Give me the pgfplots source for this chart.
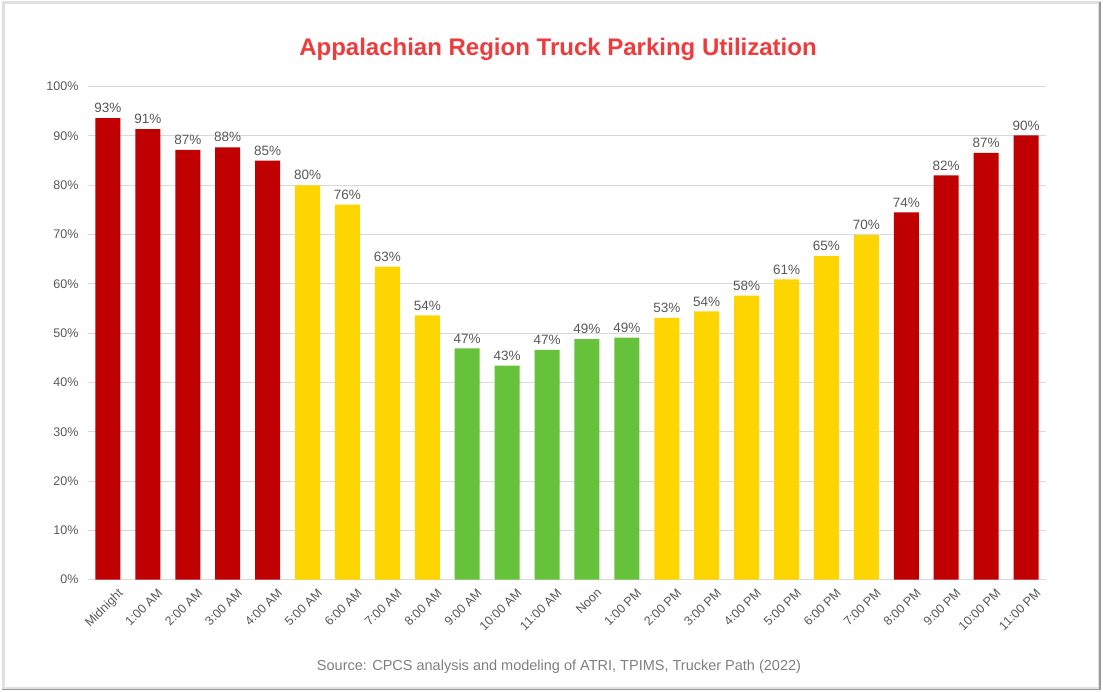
\documentclass[border=0pt]{standalone}
\usepackage{pgfplots}
\pgfplotsset{compat=1.18}
\usepackage{fontspec}
\setmainfont{Liberation Sans}
\definecolor{barred}{HTML}{C00000}
\definecolor{baryellow}{HTML}{FFD500}
\definecolor{bargreen}{HTML}{66C23A}
\definecolor{titlered}{HTML}{EE3B3B}
\definecolor{txtgray}{HTML}{595959}
\definecolor{srcgray}{HTML}{808080}
\definecolor{gridgray}{HTML}{D9D9D9}
\begin{document}
\begin{tikzpicture}
% page frame
\useasboundingbox (0,0) rectangle (1103pt,692pt);
\fill[white] (0,0) rectangle (1103pt,692pt);
\draw[black!12, line width=3pt] (3pt,3pt) rectangle (1099pt,689pt);
\draw[black!40, line width=1.2pt] (2pt,2.5pt) -- (1100pt,2.5pt) -- (1100pt,690pt);

\begin{axis}[
    at={(88pt,112.3pt)}, anchor=south west,
    scale only axis,
    width=958pt, height=493pt,
    xmin=-0.5, xmax=23.5,
    ymin=0, ymax=100,
    ybar, bar width=25pt, bar shift=0pt,
    xtick={0,...,23},
    xticklabels={Midnight,1:00 AM,2:00 AM,3:00 AM,4:00 AM,5:00 AM,6:00 AM,7:00 AM,8:00 AM,9:00 AM,10:00 AM,11:00 AM,Noon,1:00 PM,2:00 PM,3:00 PM,4:00 PM,5:00 PM,6:00 PM,7:00 PM,8:00 PM,9:00 PM,10:00 PM,11:00 PM},
    ytick={0,10,...,100},
    yticklabel={\pgfmathprintnumber{\tick}\%},
    /pgf/number format/assume math mode=true,
    major tick length=0pt,
    axis line style={draw=none},
    ymajorgrids, grid style={gridgray, line width=1pt},
    tick label style={font=\fontsize{12.5}{15}\selectfont, color=txtgray},
    yticklabel style={anchor=east, xshift=-6pt},
    xticklabel style={rotate=45, anchor=north east, inner sep=0pt, xshift=1pt, yshift=-12pt},
    point meta=explicit symbolic,
    nodes near coords={\pgfplotspointmeta\%},
    every node near coord/.append style={font=\fontsize{13.5}{16}\selectfont, color=txtgray, anchor=south, inner sep=0pt, yshift=5pt},
]
% red: high utilization
\addplot[draw=none, fill=barred] coordinates {
    (0,93.6) [93] (1,91.4) [91] (2,87.2) [87] (3,87.7) [88] (4,85.0) [85]
    (20,74.5) [74] (21,82.0) [82] (22,86.6) [87] (23,90.1) [90]
};
% yellow: medium
\addplot[draw=none, fill=baryellow] coordinates {
    (5,80.0) [80] (6,76.1) [76] (7,63.5) [63] (8,53.6) [54]
    (14,53.1) [53] (15,54.4) [54] (16,57.6) [58] (17,60.9) [61] (18,65.7) [65] (19,69.9) [70]
};
% green: low
\addplot[draw=none, fill=bargreen] coordinates {
    (9,46.9) [47] (10,43.4) [43] (11,46.6) [47] (12,48.8) [49] (13,49.1) [49]
};
\end{axis}

\node[font=\fontsize{24}{28}\selectfont\bfseries, color=titlered] at (558pt,643pt) {Appalachian Region Truck Parking Utilization};
\node[font=\fontsize{14.5}{17}\selectfont, color=srcgray] at (559pt,25pt) {Source: CPCS analysis and modeling of ATRI, TPIMS, Trucker Path (2022)};
\end{tikzpicture}
\end{document}
